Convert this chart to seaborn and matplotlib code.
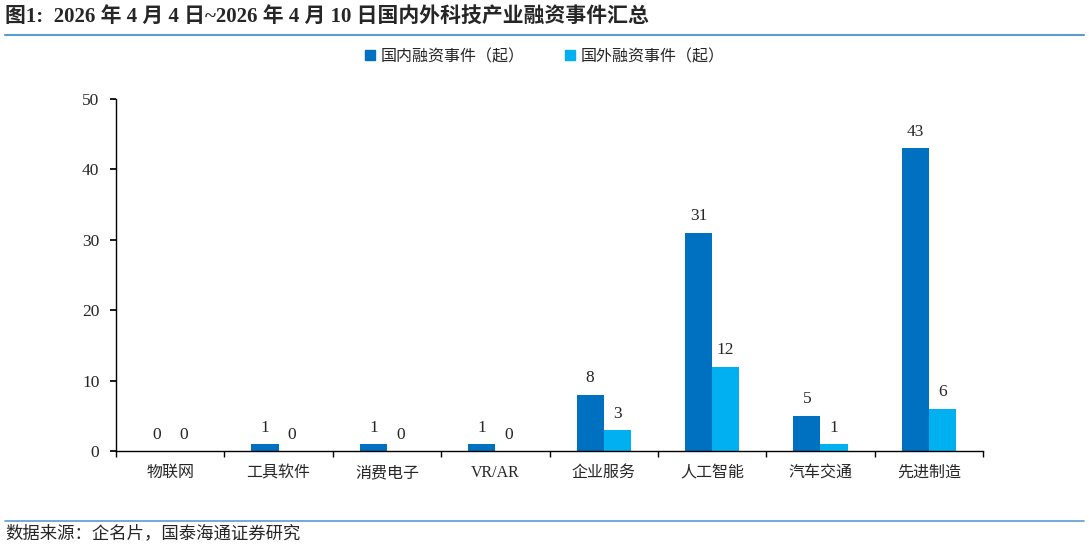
import pandas as pd
import matplotlib.pyplot as plt
import seaborn as sns
from matplotlib.lines import Line2D
import matplotlib.transforms as mtransforms
import numpy as np

categories = ['物联网', '工具软件', '消费电子', 'VR/AR', '企业服务', '人工智能', '汽车交通', '先进制造']
domestic = [0, 1, 1, 1, 8, 31, 5, 43]
foreign = [0, 0, 0, 0, 3, 12, 1, 6]
series_names = ['国内融资事件（起）', '国外融资事件（起）']
colors = ['#0070C0', '#00B0F0']

sns.set_theme(style='white')
plt.rcParams['font.family'] = ['Liberation Serif', 'Noto Sans CJK SC', 'DejaVu Sans']

df = pd.DataFrame({
    '行业': categories * 2,
    '数量': domestic + foreign,
    '类型': [series_names[0]] * len(categories) + [series_names[1]] * len(categories),
})

fig = plt.figure(figsize=(10.89, 5.47), dpi=100)
ax = fig.add_axes([116 / 1089, 1 - 451 / 547, (983 - 116) / 1089, (451 - 99) / 547])

sns.barplot(data=df, x='行业', y='数量', hue='类型', palette=colors, width=0.5,
            saturation=1, ax=ax, legend=False, linewidth=0)

for cont in ax.containers:
    ax.bar_label(cont, fmt='%d', padding=6, fontsize=12.5, family=['Liberation Serif'])

ax.set_ylim(0, 50)
ax.set_yticks(range(0, 51, 10))
ax.set_xlim(-0.5, len(categories) - 0.5)
ax.set_xlabel('')
ax.set_ylabel('')
for s in ['top', 'right']:
    ax.spines[s].set_visible(False)
for s in ['left', 'bottom']:
    ax.spines[s].set_color('black')
    ax.spines[s].set_linewidth(1.0)
ax.tick_params(axis='y', which='major', direction='out', length=4, color='black',
               left=True, labelsize=12.5, pad=8)
ax.set_xticks(np.arange(-0.5, len(categories), 1), minor=True)
ax.tick_params(axis='x', which='major', length=0, labelbottom=False)
ax.tick_params(axis='x', which='minor', direction='out', length=4, color='black', bottom=True)

# category labels drawn on a common baseline
trans = mtransforms.blended_transform_factory(ax.transData, fig.transFigure)
for i, name in enumerate(categories):
    fam = ['Liberation Serif'] if name.isascii() else ['Noto Sans CJK SC']
    ax.text(i, 1 - 477 / 547, name, transform=trans, ha='center', va='baseline',
            fontsize=11.5, family=fam)

handles = [plt.Rectangle((0, 0), 1, 1, color=c) for c in colors]
fig.legend(handles, series_names, loc='center', bbox_to_anchor=(545 / 1089, 1 - 57 / 547),
           ncol=2, frameon=False, fontsize=11.5, handlelength=0.6, handleheight=0.6,
           handletextpad=0.4, columnspacing=2.5)

fig.text(5 / 1089, 1 - 17 / 547, '图1:  2026 年 4 月 4 日~2026 年 4 月 10 日国内外科技产业融资事件汇总',
         fontsize=15, fontweight='bold', va='center', ha='left')
fig.add_artist(Line2D([5 / 1089, 1084 / 1089], [1 - 35 / 547, 1 - 35 / 547],
                      color='#5B9BD5', linewidth=1.5, transform=fig.transFigure))
fig.add_artist(Line2D([5 / 1089, 1084 / 1089], [1 - 521 / 547, 1 - 521 / 547],
                      color='#5B9BD5', linewidth=1.2, transform=fig.transFigure))
fig.text(5 / 1089, 1 - 534 / 547, '数据来源：企名片，国泰海通证券研究',
         fontsize=12.5, va='center', ha='left')

fig.savefig('out.png', dpi=100)
